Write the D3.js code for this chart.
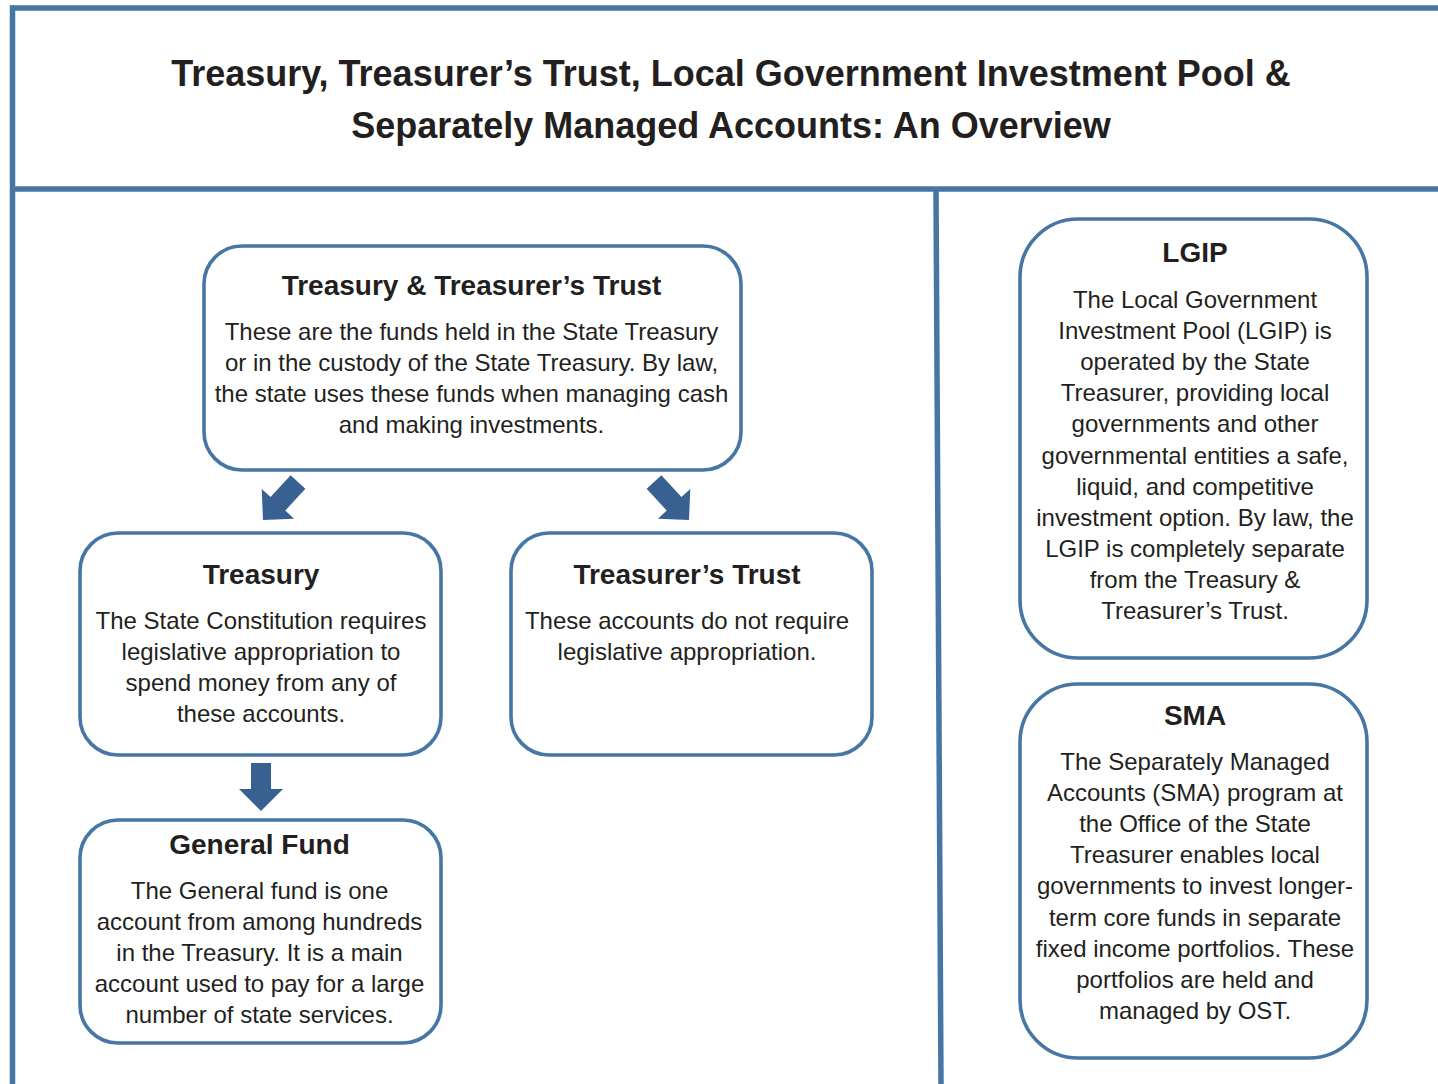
<!DOCTYPE html>
<html>
<head>
<meta charset="utf-8">
<script src="https://cdn.jsdelivr.net/npm/d3@7"></script>
<style>
  body { margin: 0; background: #fff; }
  svg { display: block; font-family: "Liberation Sans", Arial, sans-serif; }
</style>
</head>
<body>
<svg id="chart"></svg>
<script>
// text content of the overview diagram
const titleLines = [
  "Treasury, Treasurer\u2019s Trust, Local Government Investment Pool &",
  "Separately Managed Accounts: An Overview"
];
const boxNames = ["top", "treasury", "trust", "general", "lgip", "sma"];
const boxTitles = [
  "Treasury & Treasurer\u2019s Trust",
  "Treasury",
  "Treasurer\u2019s Trust",
  "General Fund",
  "LGIP",
  "SMA"
];
const boxBodies = [
  ["These are the funds held in the State Treasury",
   "or in the custody of the State Treasury. By law,",
   "the state uses these funds when managing cash",
   "and making investments."],
  ["The State Constitution requires",
   "legislative appropriation to",
   "spend money from any of",
   "these accounts."],
  ["These accounts do not require",
   "legislative appropriation."],
  ["The General fund is one",
   "account from among hundreds",
   "in the Treasury. It is a main",
   "account used to pay for a large",
   "number of state services."],
  ["The Local Government",
   "Investment Pool (LGIP) is",
   "operated by the State",
   "Treasurer, providing local",
   "governments and other",
   "governmental entities a safe,",
   "liquid, and competitive",
   "investment option. By law, the",
   "LGIP is completely separate",
   "from the Treasury &",
   "Treasurer\u2019s Trust."],
  ["The Separately Managed",
   "Accounts (SMA) program at",
   "the Office of the State",
   "Treasurer enables local",
   "governments to invest longer-",
   "term core funds in separate",
   "fixed income portfolios. These",
   "portfolios are held and",
   "managed by OST."]
];
// arrows: from box -> to box
const arrowLinks = [["top", "treasury"], ["top", "trust"], ["treasury", "general"]];

// ---- layout (positions & styles) ----
const W = 1438, H = 1084;
const frameColor = "#4676a4";
const arrowColor = "#386192";
const textColor = "#231f20";
const lineGap = 31.1;

const layout = {
  top:      { x0: 204,  x1: 741,  y0: 246, y1: 470,  r: 38, cx: 471.5, titleY: 295, bodyY: 340 },
  treasury: { x0: 80,   x1: 441,  y0: 533, y1: 755,  r: 38, cx: 261,   titleY: 584, bodyY: 629 },
  trust:    { x0: 511,  x1: 872,  y0: 533, y1: 755,  r: 38, cx: 687,   titleY: 584, bodyY: 629 },
  general:  { x0: 80,   x1: 441,  y0: 820, y1: 1043, r: 38, cx: 259.5, titleY: 854, bodyY: 899 },
  lgip:     { x0: 1020, x1: 1367, y0: 219, y1: 658,  r: 58, cx: 1195,  titleY: 262, bodyY: 308 },
  sma:      { x0: 1020, x1: 1367, y0: 684, y1: 1058, r: 58, cx: 1195,  titleY: 725, bodyY: 770 }
};
// arrow tip / tail per link
const arrowGeom = [
  { tail: [298, 482], tip: [263, 520] },
  { tail: [654, 482], tip: [689, 520] },
  { tail: [261, 763], tip: [261, 811] }
];

const svg = d3.select("#chart").attr("width", W).attr("height", H);

const boxes = boxNames.map((name, i) => ({
  name: name, title: boxTitles[i], body: boxBodies[i], ...layout[name]
}));

// frame lines
const frame = svg.append("g")
  .attr("stroke", frameColor)
  .attr("stroke-width", 5.5)
  .attr("fill", "none");
frame.append("line").attr("x1", 10).attr("y1", 8).attr("x2", W).attr("y2", 8);
frame.append("line").attr("x1", 12.5).attr("y1", 5.5).attr("x2", 12.5).attr("y2", H);
frame.append("line").attr("x1", 10).attr("y1", 189).attr("x2", W).attr("y2", 189);
frame.append("line").attr("x1", 936).attr("y1", 189).attr("x2", 941).attr("y2", H);

// heading
svg.append("g").selectAll("text")
  .data(titleLines)
  .join("text")
  .attr("x", 731)
  .attr("y", (d, i) => 86 + i * 52)
  .attr("text-anchor", "middle")
  .attr("font-weight", "bold")
  .attr("font-size", 36)
  .attr("fill", textColor)
  .text(d => d);

// boxes
const g = svg.append("g").selectAll("g")
  .data(boxes)
  .join("g");

g.append("rect")
  .attr("x", d => d.x0)
  .attr("y", d => d.y0)
  .attr("width", d => d.x1 - d.x0)
  .attr("height", d => d.y1 - d.y0)
  .attr("rx", d => d.r)
  .attr("fill", "#fff")
  .attr("stroke", frameColor)
  .attr("stroke-width", 3.6);

g.append("text")
  .attr("x", d => d.cx)
  .attr("y", d => d.titleY)
  .attr("text-anchor", "middle")
  .attr("font-weight", "bold")
  .attr("font-size", 28)
  .attr("fill", textColor)
  .text(d => d.title);

g.each(function(d) {
  d3.select(this).append("g").selectAll("text")
    .data(d.body)
    .join("text")
    .attr("x", d.cx)
    .attr("y", (t, i) => d.bodyY + i * lineGap)
    .attr("text-anchor", "middle")
    .attr("font-size", 24)
    .attr("fill", textColor)
    .text(t => t);
});

// block arrows, built pointing down (+y) then rotated toward the tip
function arrowPath(tail, tip) {
  var dx = tip[0] - tail[0], dy = tip[1] - tail[1];
  var len = Math.sqrt(dx * dx + dy * dy);
  var hw = 22, hl = 22, sw = 10;
  var pts = [[-sw, 0], [sw, 0], [sw, len - hl], [hw, len - hl], [0, len],
             [-hw, len - hl], [-sw, len - hl]];
  var ang = Math.atan2(dy, dx) - Math.PI / 2;
  var c = Math.cos(ang), s = Math.sin(ang);
  return d3.line()(pts.map(p => [tail[0] + p[0] * c - p[1] * s, tail[1] + p[0] * s + p[1] * c])) + "Z";
}

svg.append("g").selectAll("path")
  .data(arrowLinks.map((l, i) => arrowGeom[i]))
  .join("path")
  .attr("d", d => arrowPath(d.tail, d.tip))
  .attr("fill", arrowColor);
</script>
</body>
</html>
